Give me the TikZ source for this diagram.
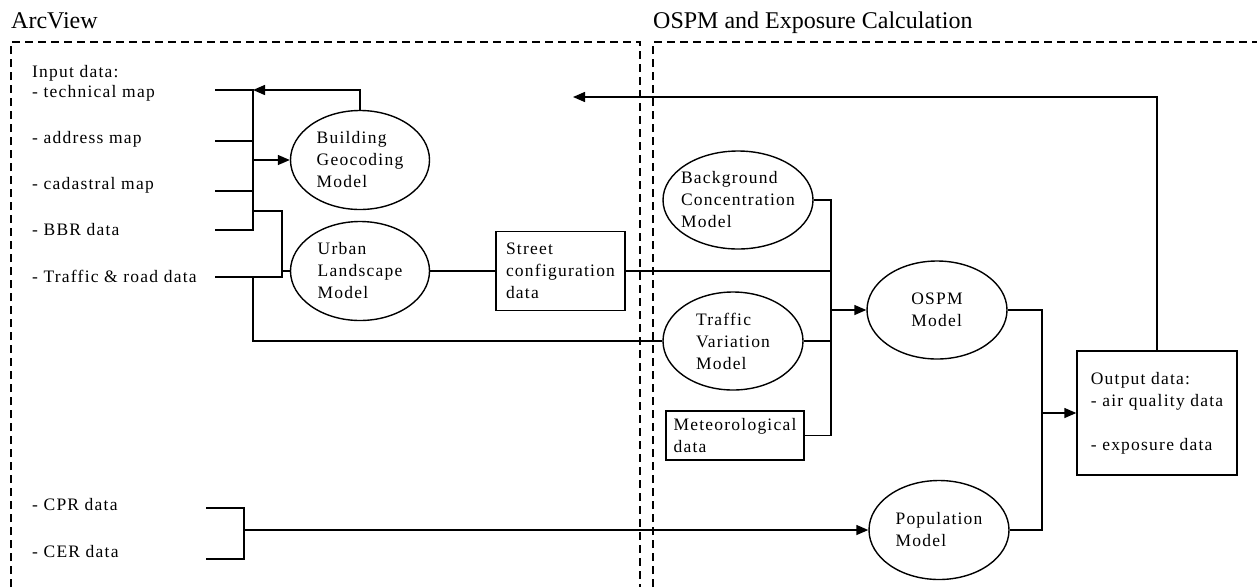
\documentclass[tikz,border=0pt]{standalone}
\usepackage{fontspec}
\setmainfont[LetterSpace=7]{Liberation Serif}
\newfontfamily\headfont{Liberation Serif}
\usetikzlibrary{shapes.geometric,arrows.meta}

\begin{document}
\begin{tikzpicture}[x=1pt,y=-1pt,
  font=\fontsize{17.5}{22}\selectfont,
  zone/.style={line width=1.4pt,dash pattern=on 8pt off 5pt},
  link/.style={line width=1.4pt},
  flow/.style={link,-{Triangle[length=12pt,width=10pt]}},
  model/.style={ellipse,draw,line width=1.4pt,inner sep=-8pt,align=left,minimum width=140pt,minimum height=98pt},
  databox/.style={rectangle,draw,line width=1.4pt,inner sep=0pt,align=left},
  item/.style={anchor=base west,inner sep=0pt},
  title/.style={anchor=base west,inner sep=0pt,font=\headfont\fontsize{24}{28}\selectfont}]
\useasboundingbox (0,0) rectangle (1257,587);
% headings and zones
\node[title] (arcv) at (11,28) {ArcView};
\node[title] (calc) at (653,28) {OSPM and Exposure Calculation};
\draw[zone] (11,587) |- (640,42) -- (640,587);
\draw[zone] (653,587) |- (1257,42);
% input data
\node[item] (indata) at (32,77) {Input data:};
\foreach \n/\y/\t in {tech/97/technical map,addr/143/address map,cad/189/cadastral map,bbr/235/BBR data,traf/282/Traffic \& road data,cpr/510/CPR data,cer/557/CER data}
  \node[item] (\n) at (32,\y) {- \t};
\coordinate (busA) at (253,0);
\coordinate (busB) at (831,0);
\coordinate (busC) at (1042,0);
\foreach \n/\y in {tech/90,addr/141,cad/191,bbr/230,traf/277}
  \coordinate (s\n) at (215,\y);
\draw[link] (stech) -- (stech -| busA) -- (sbbr -| busA) -- (sbbr);
\draw[link] (saddr) -- (saddr -| busA) (scad) -- (scad -| busA);
% ArcView models
\node[model,minimum width=139pt,minimum height=99pt] (bgm) at (360,160) {Building\\Geocoding\\Model};
\node[model,minimum width=139pt,minimum height=99pt] (ulm) at (360,271) {Urban\\Landscape\\Model};
\node[databox,minimum width=129pt,minimum height=79pt] (scd) at (560.5,271) {Street\\configuration\\data};
\draw[flow] (bgm.west -| busA) -- (bgm.west);
\draw[flow] (bgm.north) |- (stech -| busA);
\coordinate (tap) at (253,211);
\coordinate (jn) at (282,277);
\draw[link] (tap) -| (jn) -- (straf);
\draw[link] (ulm.west -| jn) -- (ulm.west);
\draw[link] (ulm.east) -- (scd.west);
% OSPM side
\node[model,minimum width=150pt] (bcm) at (738,200) {Background\\Concentration\\Model};
\node[model] (tvm) at (733,341) {Traffic\\Variation\\Model};
\node[databox,minimum width=138pt,minimum height=49pt,inner xsep=6pt] (met) at (735,435.5) {Meteorological\\data};
\node[model] (ospm) at (937,310) {OSPM\\Model};
\node[model,minimum height=99pt] (pop) at (939,530) {Population\\Model};
\node[databox,minimum width=160pt,minimum height=124pt] (out) at (1157,413) {Output data:\\- air quality data\\[22pt]- exposure data};
\draw[link] (straf -| busA) |- (tvm.west);
\draw[link] (bcm.east) -| (met.east -| busB) -- (met.east);
\draw[link] (scd.east) -- (scd.east -| busB);
\draw[link] (tvm.east) -- (tvm.east -| busB);
\draw[flow] (ospm.west -| busB) -- (ospm.west);
\draw[link] (ospm.east) -| (pop.east -| busC) -- (pop.east);
\draw[flow] (out.west -| busC) -- (out.west);
\coordinate (fb) at (573,97);
\draw[flow] (out.north) |- (fb);
% population data
\coordinate (brt) at (206,508);
\coordinate (brb) at (206,559);
\coordinate (brx) at (244,0);
\draw[link] (brt) -| (brb -| brx) -- (brb);
\draw[flow] (pop.west -| brx) -- (pop.west);
\end{tikzpicture}
\end{document}
